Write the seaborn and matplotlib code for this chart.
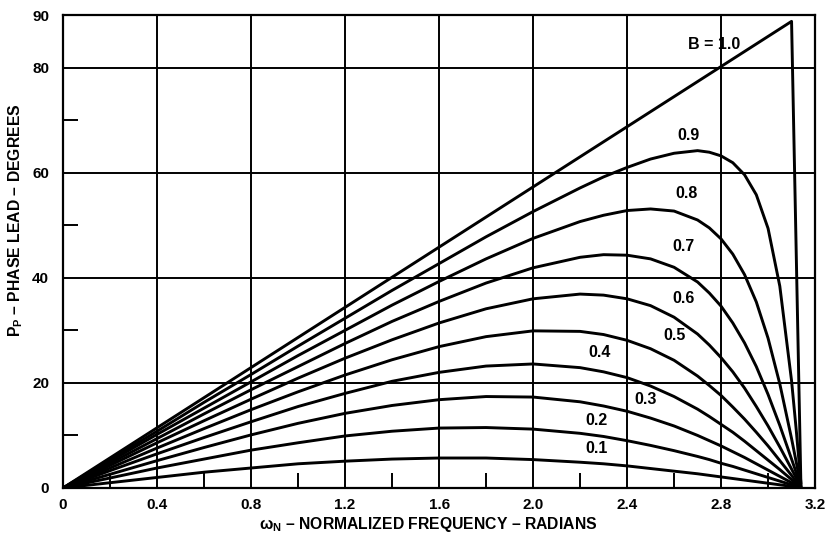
import matplotlib
matplotlib.use("Agg")
import matplotlib.pyplot as plt
import pandas as pd
import seaborn as sns

# Normalized frequency samples (radians) shared by the B < 1 curves
w = [0.0, 0.2, 0.4, 0.6, 0.8, 1.0, 1.2, 1.4, 1.6, 1.8, 2.0, 2.2, 2.3,
     2.4, 2.5, 2.6, 2.7, 2.75, 2.8, 2.85, 2.9, 2.95, 3.0, 3.05, 3.1, 3.12, 3.14]

# Phase lead (degrees) for each value of B
p_b09 = [0, 5.4, 10.8, 16.3, 21.6, 27.0, 32.3, 37.6, 42.7, 47.8, 52.6, 57.1, 59.2,
         61.0, 62.6, 63.7, 64.2, 63.9, 63.2, 61.9, 59.6, 55.8, 49.4, 38.4, 20.4, 11.0, 0.8]
p_b08 = [0, 5.1, 10.2, 15.2, 20.2, 25.2, 30.0, 34.8, 39.3, 43.6, 47.5, 50.7, 51.9,
         52.8, 53.1, 52.7, 51.0, 49.5, 47.4, 44.5, 40.6, 35.4, 28.5, 19.8, 9.4, 4.9, 0.4]
p_b07 = [0, 4.7, 9.4, 14.1, 18.7, 23.1, 27.5, 31.7, 35.5, 39.0, 41.9, 43.9, 44.4,
         44.3, 43.6, 42.0, 39.2, 37.1, 34.6, 31.4, 27.6, 23.1, 17.8, 11.9, 5.5, 2.9, 0.2]
p_b06 = [0, 4.3, 8.6, 12.8, 16.9, 20.9, 24.7, 28.2, 31.4, 34.1, 36.0, 36.9, 36.7,
         36.0, 34.7, 32.5, 29.3, 27.2, 24.8, 22.1, 19.0, 15.5, 11.8, 7.8, 3.6, 1.9, 0.1]
p_b05 = [0, 3.8, 7.6, 11.3, 14.9, 18.3, 21.5, 24.4, 26.9, 28.8, 29.9, 29.8, 29.2,
         28.1, 26.5, 24.3, 21.3, 19.5, 17.6, 15.4, 13.1, 10.6, 8.0, 5.2, 2.4, 1.2, 0.1]
p_b04 = [0, 3.3, 6.5, 9.6, 12.6, 15.5, 18.0, 20.3, 22.0, 23.2, 23.6, 22.9, 22.1,
         21.0, 19.4, 17.4, 15.0, 13.6, 12.1, 10.6, 8.9, 7.1, 5.3, 3.5, 1.6, 0.8, 0.1]
p_b03 = [0, 2.6, 5.2, 7.7, 10.1, 12.3, 14.2, 15.7, 16.8, 17.4, 17.3, 16.4, 15.6,
         14.6, 13.3, 11.8, 10.0, 9.0, 8.0, 6.9, 5.8, 4.6, 3.4, 2.2, 1.0, 0.5, 0.0]
p_b02 = [0, 1.9, 3.8, 5.5, 7.2, 8.6, 9.9, 10.8, 11.4, 11.5, 11.2, 10.4, 9.8,
         9.0, 8.1, 7.1, 6.0, 5.4, 4.7, 4.1, 3.4, 2.7, 2.0, 1.3, 0.6, 0.3, 0.0]
p_b01 = [0, 1.0, 2.0, 3.0, 3.8, 4.6, 5.1, 5.5, 5.7, 5.7, 5.4, 4.9, 4.6,
         4.2, 3.7, 3.2, 2.7, 2.4, 2.1, 1.8, 1.5, 1.2, 0.9, 0.6, 0.3, 0.1, 0.0]

# B = 1.0 is a straight ramp that drops to zero at the end of the band
w_b10 = [0.0, 3.10, 3.14]
p_b10 = [0.0, 88.8, 0.0]

b_values = ["0.1", "0.2", "0.3", "0.4", "0.5", "0.6", "0.7", "0.8", "0.9"]
curve_labels = ["B = 1.0", "0.9", "0.8", "0.7", "0.6", "0.5", "0.4", "0.3", "0.2", "0.1"]

x_ticks = [0, 0.4, 0.8, 1.2, 1.6, 2.0, 2.4, 2.8, 3.2]
x_tick_labels = ["0", "0.4", "0.8", "1.2", "1.6", "2.0", "2.4", "2.8", "3.2"]
y_ticks = [0, 20, 40, 60, 80, 90]
y_tick_labels = ["0", "20", "40", "60", "80", "90"]

# Long-form table for seaborn
series = [p_b01, p_b02, p_b03, p_b04, p_b05, p_b06, p_b07, p_b08, p_b09]
frames = [pd.DataFrame({"w": w, "p": vals, "B": b}) for b, vals in zip(b_values, series)]
frames.append(pd.DataFrame({"w": w_b10, "p": p_b10, "B": "1.0"}))
df = pd.concat(frames, ignore_index=True)

sns.set_theme(style="white")
plt.rcParams["font.family"] = ["Liberation Sans", "DejaVu Sans"]
plt.rcParams["font.weight"] = "bold"
plt.rcParams["mathtext.fontset"] = "custom"
plt.rcParams["mathtext.rm"] = "Liberation Sans:bold"
plt.rcParams["mathtext.bf"] = "Liberation Sans:bold"
plt.rcParams["mathtext.it"] = "Liberation Sans:bold:italic"

fig, ax = plt.subplots(figsize=(8.3, 5.38), dpi=100)
fig.subplots_adjust(left=0.076, right=0.982, top=0.972, bottom=0.093)

palette = {b: "black" for b in df["B"].unique()}
sns.lineplot(data=df, x="w", y="p", hue="B", palette=palette, legend=False,
             estimator=None, sort=False, linewidth=2.1, ax=ax)
for ln in ax.get_lines():
    ln.set_solid_joinstyle("round")
    ln.set_solid_capstyle("round")

ax.set_xlim(0, 3.2)
ax.set_ylim(0, 90)
ax.set_xticks(x_ticks)
ax.set_xticklabels(x_tick_labels)
ax.set_yticks(y_ticks)
ax.set_yticklabels(y_tick_labels)
ax.set_xticks([0.2, 0.6, 1.0, 1.4, 1.8, 2.2, 2.6, 3.0], minor=True)
ax.set_yticks([10, 30, 50, 70], minor=True)

ax.tick_params(which="major", length=0, labelsize=11, colors="black")
ax.tick_params(axis="x", which="major", pad=7)
ax.tick_params(axis="y", which="major", pad=10)
ax.tick_params(which="minor", direction="in", length=11, width=1.4,
               color="black", bottom=True, left=True)
for lab in ax.get_xticklabels() + ax.get_yticklabels():
    lab.set_fontweight("bold")

ax.set_axisbelow(True)
ax.grid(True, which="major", color="black", linewidth=1.4)
for sp in ax.spines.values():
    sp.set_visible(True)
    sp.set_color("black")
    sp.set_linewidth(1.6)

ax.set_xlabel("ω$_\\mathbf{N}$ – NORMALIZED FREQUENCY – RADIANS",
              fontsize=11.3, fontweight="bold", color="black")
ax.set_ylabel("P$_\\mathbf{P}$ – PHASE LEAD – DEGREES",
              fontsize=11.3, fontweight="bold", color="black")
ax.xaxis.set_label_coords(0.485, -0.057)
ax.yaxis.set_label_coords(-0.050, 0.567)

label_pos = [(2.77, 84.4), (2.66, 67.1), (2.655, 56.1), (2.64, 46.0), (2.64, 36.1),
             (2.60, 29.1), (2.285, 25.7), (2.48, 16.9), (2.27, 12.9), (2.27, 7.6)]
for txt, (lx, ly) in zip(curve_labels, label_pos):
    ax.text(lx, ly, txt, ha="center", va="center", fontsize=11.5,
            fontweight="bold", color="black")

fig.savefig("out.png", dpi=100)
